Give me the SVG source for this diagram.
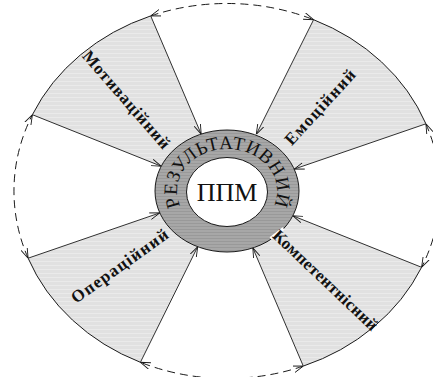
<svg xmlns="http://www.w3.org/2000/svg" width="433" height="377" viewBox="0 0 433 377">
  <style>
    .sector { fill: url(#lt); stroke: none; }
    .rim { fill: none; stroke: #1a1a1a; stroke-width: 1; }
    .ray { fill: none; stroke: #1a1a1a; stroke-width: 0.9; marker-end: url(#ah); }
    .dash { fill: none; stroke: #1a1a1a; stroke-width: 1; stroke-dasharray: 8 5; marker-start: url(#ah); marker-end: url(#ah); }
    .lbl { font-family: "Liberation Serif", "Times New Roman", serif; font-weight: bold; font-size: 17px; fill: #111; }
    .ringtxt { font-family: "Liberation Serif", "Times New Roman", serif; font-size: 19px; fill: #111; letter-spacing: 0.6px; }
    .core { font-family: "Liberation Serif", "Times New Roman", serif; font-size: 26px; fill: #111; }
  </style>
  <defs>
    <pattern id="lt" width="6" height="4" patternUnits="userSpaceOnUse">
      <rect width="6" height="4" fill="#e1e1e1"/>
      <rect y="1" width="6" height="1" fill="#eaeaea"/>
    </pattern>
    <pattern id="dk" width="6" height="3" patternUnits="userSpaceOnUse">
      <rect width="6" height="3" fill="#a7a7a7"/>
      <rect y="1" width="6" height="1" fill="#999999"/>
    </pattern>
    <marker id="ah" viewBox="0 0 10 8" refX="10" refY="4" markerWidth="10" markerHeight="8" markerUnits="userSpaceOnUse" orient="auto-start-reverse">
      <path d="M0,0.6 L10,4 L0,7.4" fill="none" stroke="#1a1a1a" stroke-width="0.9"/>
    </marker>
    <path id="rp" d="M183.7,212 A50,42 0 1 1 270.3,212"/>
  </defs>

  <g id="sector-motyvatsiinyi">
    <path class="sector" d="M161.2,166.2 L32.4,114.7 A213,187.5 0 0 1 150.7,15.9 L201.2,134.1 A72,61 0 0 0 161.2,166.2 Z"/>
    <path class="rim" d="M32.4,114.7 A213,187.5 0 0 1 150.7,15.9"/>
  </g>
  <g id="sector-emotsiinyi">
    <path class="sector" d="M256.3,134.3 L313.6,19.7 A213,187.5 0 0 1 425.9,123.8 L294.2,169.1 A72,61 0 0 0 256.3,134.3 Z"/>
    <path class="rim" d="M313.6,19.7 A213,187.5 0 0 1 425.9,123.8"/>
  </g>
  <g id="sector-kompetentnisnyi">
    <path class="sector" d="M292.8,215.8 L421.6,267.3 A213,187.5 0 0 1 303.3,366.1 L252.8,247.9 A72,61 0 0 0 292.8,215.8 Z"/>
    <path class="rim" d="M421.6,267.3 A213,187.5 0 0 1 303.3,366.1"/>
  </g>
  <g id="sector-operatsiinyi">
    <path class="sector" d="M197.7,246.7 L140.4,362.3 A213,187.5 0 0 1 28.1,258.2 L159.8,212.9 A72,61 0 0 0 197.7,246.7 Z"/>
    <path class="rim" d="M140.4,362.3 A213,187.5 0 0 1 28.1,258.2"/>
  </g>

  <g id="connectors">
    <path class="ray" d="M32.4,114.7 L161.2,166.2"/>
    <path class="ray" d="M150.7,15.9 L201.2,134.1"/>
    <path class="ray" d="M313.6,19.7 L256.3,134.3"/>
    <path class="ray" d="M425.9,123.8 L294.2,169.1"/>
    <path class="ray" d="M421.6,267.3 L292.8,215.8"/>
    <path class="ray" d="M303.3,366.1 L252.8,247.9"/>
    <path class="ray" d="M140.4,362.3 L197.7,246.7"/>
    <path class="ray" d="M28.1,258.2 L159.8,212.9"/>
    <path class="dash" d="M150.7,15.9 A213,187.5 0 0 1 313.6,19.7"/>
    <path class="dash" d="M425.9,123.8 A213,187.5 0 0 1 421.6,267.3"/>
    <path class="dash" d="M303.3,366.1 A213,187.5 0 0 1 140.4,362.3"/>
    <path class="dash" d="M28.1,258.2 A213,187.5 0 0 1 32.4,114.7"/>
  </g>

  <g id="ring-rezultatyvnyi">
    <ellipse cx="227" cy="191" rx="72" ry="61" fill="url(#dk)" stroke="#1a1a1a" stroke-width="1"/>
    <line x1="270.5" y1="238.5" x2="283.5" y2="228.5" stroke="#ffffff" stroke-width="3"/>
    <text class="ringtxt" text-anchor="middle"><textPath href="#rp" startOffset="50%">РЕЗУЛЬТАТИВНИЙ</textPath></text>
  </g>
  <g id="core-ppm">
    <ellipse cx="227" cy="192" rx="40.5" ry="34.5" fill="#ffffff" stroke="#1a1a1a" stroke-width="1"/>
    <text class="core" x="227" y="201" text-anchor="middle">ППМ</text>
  </g>

  <g id="labels">
    <text class="lbl" text-anchor="middle" textLength="124" lengthAdjust="spacing" transform="translate(126,100) rotate(49)" x="0" y="5">Мотиваційний</text>
    <text class="lbl" text-anchor="middle" textLength="96" lengthAdjust="spacing" transform="translate(320.5,107.5) rotate(-47.5)" x="0" y="5">Емоційний</text>
    <text class="lbl" text-anchor="middle" textLength="115" lengthAdjust="spacing" transform="translate(120,266.5) rotate(-35.5)" x="0" y="5">Операційний</text>
    <text class="lbl" text-anchor="middle" textLength="138" lengthAdjust="spacing" transform="translate(325,280.5) rotate(43.5)" x="0" y="5">Компетентнісний</text>
  </g>
</svg>
